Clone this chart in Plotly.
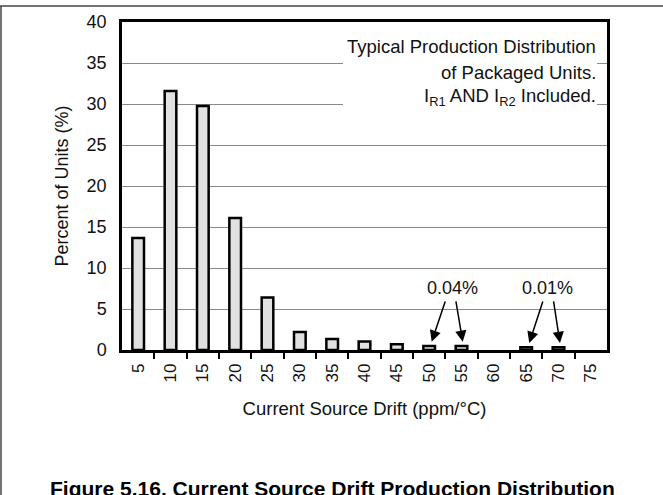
import plotly.graph_objects as go

drift = [5, 10, 15, 20, 25, 30, 35, 40, 45, 50, 55, 60, 65, 70, 75]
percent = [13.65, 31.6, 29.75, 16.1, 6.4, 2.2, 1.35, 1.05, 0.7, 0.5, 0.5, None, 0.35, 0.35, None]
y_ticks = [0, 5, 10, 15, 20, 25, 30, 35, 40]

FONT = "Liberation Sans, Arial, Helvetica, sans-serif"
W, H = 663, 495
L, R, T, B = 122, 56, 22, 145
PW, PH = W - L - R, H - T - B


def px_x(px):
    return (px - L) / PW


def px_y(py):
    return (H - B - py) / PH


fig = go.Figure()
fig.add_trace(go.Bar(
    x=drift, y=percent, width=1.8,
    marker=dict(color="#e1e1e1", line=dict(color="black", width=2.5)),
    hoverinfo="skip",
))

annotations = []
box_lines = [
    ("Typical Production Distribution", 47),
    ("of Packaged Units.", 72),
    ("I<sub>R1</sub> AND I<sub>R2</sub> Included.", 97),
]
for txt, py in box_lines:
    annotations.append(dict(
        text=txt, xref="paper", yref="paper", x=px_x(598), y=px_y(py),
        xanchor="right", yanchor="middle", showarrow=False, align="right",
        font=dict(family=FONT, size=18.5, color="#111"),
    ))

annotations.append(dict(text="0.04%", x=53.68, y=7.52, xref="x", yref="y",
                        showarrow=False, font=dict(family=FONT, size=18, color="#111")))
annotations.append(dict(text="0.01%", x=68.25, y=7.52, xref="x", yref="y",
                        showarrow=False, font=dict(family=FONT, size=18, color="#111")))
arrows = [
    (52.56, 6.1, 50.39, 1.0),
    (54.1, 6.1, 55.19, 1.0),
    (67.65, 6.1, 65.48, 0.85),
    (69.2, 6.1, 70.23, 0.85),
]
for ax, ay, hx, hy in arrows:
    annotations.append(dict(
        text="", x=hx, y=hy, ax=ax, ay=ay, xref="x", yref="y", axref="x", ayref="y",
        showarrow=True, arrowhead=2, arrowsize=1.5, arrowwidth=1.5, arrowcolor="black",
    ))

annotations.append(dict(
    text="<b>Figure 5.16. Current Source Drift Production Distribution</b>",
    xref="paper", yref="paper", x=px_x(332), y=px_y(475),
    xanchor="center", yanchor="top", showarrow=False,
    font=dict(family=FONT, size=21, color="black"),
))

shapes = [
    dict(type="rect", xref="paper", yref="paper", x0=px_x(343), x1=px_x(597),
         y0=px_y(110), y1=px_y(32), fillcolor="white", line=dict(width=0), layer="above"),
    dict(type="line", xref="paper", yref="paper", x0=px_x(0), x1=px_x(663),
         y0=px_y(6), y1=px_y(6), line=dict(color="#444", width=1.5)),
    dict(type="line", xref="paper", yref="paper", x0=px_x(1), x1=px_x(1),
         y0=px_y(6), y1=px_y(495), line=dict(color="#444", width=1.5)),
]

fig.update_layout(
    width=W, height=H,
    margin=dict(l=L, r=R, t=T, b=B, pad=0),
    paper_bgcolor="white", plot_bgcolor="white",
    showlegend=False,
    font=dict(family=FONT, size=17, color="#111"),
    annotations=annotations,
    shapes=shapes,
    xaxis=dict(
        range=[2.5, 77.5], tickmode="array", tickvals=drift,
        ticktext=[str(v) for v in drift], tickangle=-90,
        ticks="outside", ticklen=4, tickcolor="rgba(0,0,0,0)",
        tickfont=dict(family=FONT, size=17, color="#111"),
        minor=dict(tickmode="array", tickvals=[7.5 + 5 * i for i in range(14)],
                   ticks="outside", ticklen=6, tickwidth=1.5, tickcolor="black", showgrid=False),
        showgrid=False, zeroline=False,
        showline=True, linecolor="black", linewidth=2.5, mirror=True,
        title=dict(text="Current Source Drift (ppm/°C)", standoff=21,
                   font=dict(family=FONT, size=18.5, color="#111")),
    ),
    yaxis=dict(
        range=[0, 40], tickmode="array", tickvals=y_ticks,
        ticks="outside", ticklen=9, tickcolor="rgba(0,0,0,0)",
        tickfont=dict(family=FONT, size=18, color="#111"),
        showgrid=True, gridcolor="#8a8a8a", gridwidth=1, zeroline=False,
        showline=True, linecolor="black", linewidth=2.5, mirror=True,
        title=dict(text="Percent of Units (%)", standoff=14,
                   font=dict(family=FONT, size=18, color="#111")),
    ),
)

fig.write_html("out.html")
